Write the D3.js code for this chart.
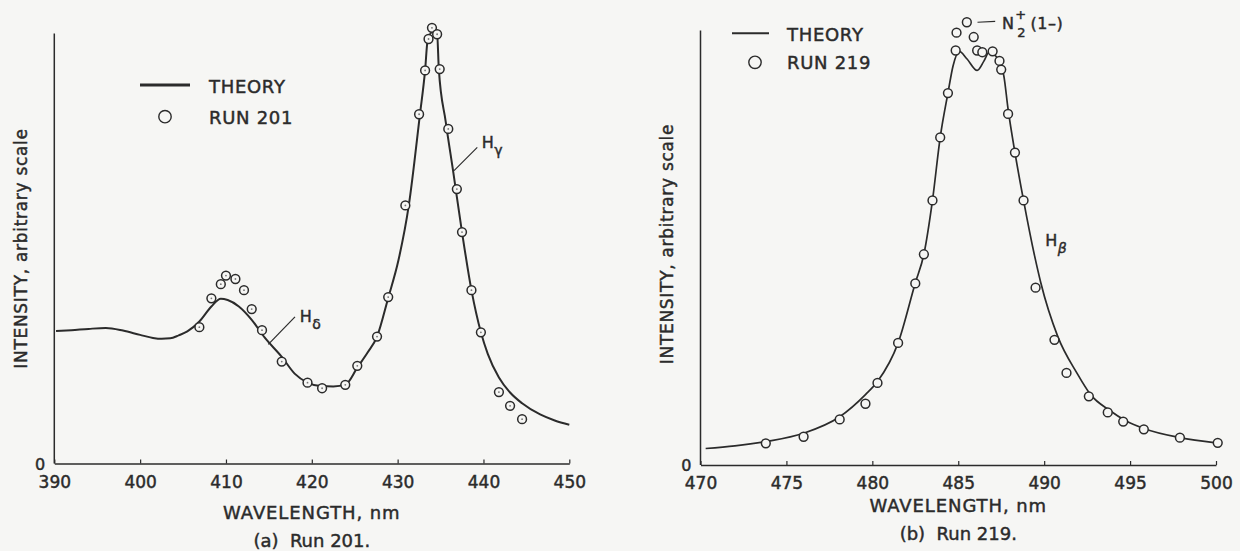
<!DOCTYPE html>
<html>
<head>
<meta charset="utf-8">
<script src="https://cdn.jsdelivr.net/npm/d3@7"></script>
<style>
  body { margin: 0; background: #f6f6f4; }
  svg { display: block; font-family: "DejaVu Sans", sans-serif; }
  text { fill: #2b2b2b; stroke: #2b2b2b; stroke-width: 0.45px; }
</style>
</head>
<body>
<svg id="chart" width="1240" height="551"></svg>
<script>
// (a) Run 201 - theory curve
const theoryA_wl = [390.2, 392, 394, 396, 398, 400, 401.5, 402.5, 403.5, 404.5, 405.5, 406.9, 408.3, 409.4, 410.2, 411.5, 413, 414.5, 416.5, 418, 419.5, 421, 422.5, 424, 425.3, 426.5, 427.6, 428.9, 430.1, 431.3, 432.6, 433.2, 433.5, 434.1, 434.6, 434.8, 435.6, 436.5, 437.5, 438.6, 439.7, 440.5, 441.8, 443.1, 444.5, 446.6, 448.3, 450];
const theoryA_int = [30.8, 31.0, 31.3, 31.5, 30.9, 29.9, 29.2, 29.0, 29.1, 29.8, 30.7, 33.0, 36.5, 38.3, 38.0, 36.5, 33.4, 29.3, 24.8, 20.9, 18.8, 18.0, 17.9, 18.5, 22.3, 25.8, 29.5, 38.5, 47.3, 60.0, 81.2, 91.4, 98.5, 100.4, 99.8, 91.7, 79.5, 67.5, 53.8, 40.3, 30.5, 25.5, 20.0, 16.5, 14.0, 11.4, 10.0, 9.0];
// (a) Run 201 - measured points
const runA_wl = [406.9, 408.3, 409.4, 410.0, 411.1, 412.1, 413.0, 414.2, 416.5, 419.5, 421.2, 423.9, 425.3, 427.6, 428.9, 430.9, 432.5, 433.2, 433.6, 434.0, 434.6, 434.9, 435.9, 436.9, 437.5, 438.6, 439.7, 441.8, 443.1, 444.5];
const runA_int = [31.7, 38.4, 41.7, 43.7, 42.9, 40.3, 35.9, 31.0, 23.7, 18.8, 17.5, 18.3, 22.7, 29.5, 38.7, 60.0, 81.2, 91.4, 98.7, 101.3, 99.8, 91.7, 77.8, 63.8, 53.8, 40.3, 30.5, 16.6, 13.4, 10.3];
const ticksA = [390, 400, 410, 420, 430, 440, 450];

// (b) Run 219 - theory curve
const theoryB_wl = [470.3, 472, 473.8, 476, 478.1, 479.6, 480.3, 481.5, 482.5, 483.0, 483.5, 483.95, 484.4, 484.7, 485.06, 485.5, 486.1, 486.5, 486.8, 487.25, 487.65, 487.9, 488.3, 488.8, 489.45, 489.8, 490.8, 491.9, 492.7, 493.8, 494.7, 495.8, 497.9, 500];
const theoryB_int = [3.8, 4.4, 5.4, 7.3, 11.1, 16.2, 19.2, 28.1, 41.9, 48.5, 60.9, 75.4, 85.6, 91.9, 95.2, 93.5, 90.8, 93.0, 95.0, 93.8, 89.6, 81.9, 71.9, 60.9, 48.0, 42.0, 29.5, 21.2, 16.2, 12.6, 10.3, 8.4, 6.3, 5.1];
// (b) Run 219 - measured points
const runB_wl = [473.8, 476.0, 478.1, 479.6, 480.3, 481.5, 482.5, 483.0, 483.5, 483.95, 484.4, 484.85, 484.9, 485.5, 485.9, 486.1, 486.4, 487.0, 487.4, 487.5, 487.9, 488.3, 488.8, 489.5, 490.6, 491.3, 492.6, 493.7, 494.6, 495.8, 497.9, 500.1];
const runB_int = [5.0, 6.5, 10.5, 14.1, 18.9, 28.1, 41.8, 48.5, 60.9, 75.4, 85.6, 95.4, 99.5, 101.9, 98.5, 95.4, 95.0, 95.2, 93.0, 91.0, 80.8, 71.9, 60.9, 40.8, 28.8, 21.2, 15.8, 12.1, 10.0, 8.2, 6.3, 5.1];
const ticksB = [470, 475, 480, 485, 490, 495, 500];

const ink = "#2b2b2b";
const svg = d3.select("#chart");

function drawPanel(p) {
  const x = d3.scaleLinear().domain(p.xDomain).range([p.left, p.right]);
  const y = d3.scaleLinear().domain([0, 100]).range([p.bottom, p.top]);
  const g = svg.append("g");

  // y axis: bare line with a single "0"
  g.append("line")
    .attr("x1", p.left).attr("x2", p.left)
    .attr("y1", y(0)).attr("y2", p.top)
    .attr("stroke", ink).attr("stroke-width", 1.5);
  g.append("text")
    .attr("x", p.left - 9).attr("y", y(0) + 6)
    .attr("text-anchor", "end")
    .style("font-size", "16px")
    .text("0");

  // x axis, ticks pointing inward
  const xAxis = g.append("g")
    .attr("transform", `translate(0,${y(0)})`)
    .call(d3.axisBottom(x).tickValues(p.ticks).tickSizeInner(-4).tickSizeOuter(0).tickFormat(d3.format("d")));
  xAxis.select(".domain").attr("stroke", ink).attr("stroke-width", 1.5);
  xAxis.selectAll(".tick line").attr("stroke", ink).attr("stroke-width", 1.2);
  xAxis.selectAll(".tick text")
    .attr("y", 24).attr("dy", 0)
    .style("font-size", "17px")
    .style("font-family", "DejaVu Sans, sans-serif");

  g.append("text")
    .attr("x", (p.left + p.right) / 2).attr("y", p.titleY)
    .attr("text-anchor", "middle")
    .style("font-size", "18px").style("letter-spacing", "0.9px")
    .text("WAVELENGTH, nm");

  g.append("text")
    .attr("transform", `translate(${p.yTitleX},${p.yTitleCY}) rotate(-90)`)
    .attr("text-anchor", "middle")
    .style("font-size", "17px").style("letter-spacing", "0.7px")
    .text("INTENSITY, arbitrary scale");

  g.append("text")
    .attr("x", (p.left + p.right) / 2).attr("y", p.captionY)
    .attr("text-anchor", "middle")
    .style("font-size", "18px")
    .style("white-space", "pre")
    .text(p.caption);

  // theory curve
  const line = d3.line()
    .x(d => x(d[0])).y(d => y(d[1]))
    .curve(d3.curveMonotoneX);
  g.append("path")
    .datum(d3.zip(p.theoryWl, p.theoryInt))
    .attr("d", line)
    .attr("fill", "none")
    .attr("stroke", ink)
    .attr("stroke-width", p.curveWidth);

  // measured points
  const pts = g.append("g").selectAll("g")
    .data(d3.zip(p.runWl, p.runInt))
    .join("g")
    .attr("transform", d => `translate(${x(d[0])},${y(d[1])})`);
  pts.append("circle")
    .attr("r", 4.4)
    .attr("fill", "#f6f6f4")
    .attr("stroke", ink)
    .attr("stroke-width", 1.5);
  if (p.centerDot) {
    pts.append("circle").attr("r", 0.9).attr("fill", "#777");
  }

  // legend
  const lg = g.append("g");
  lg.append("line")
    .attr("x1", p.legend.x1).attr("x2", p.legend.x2)
    .attr("y1", p.legend.lineY).attr("y2", p.legend.lineY)
    .attr("stroke", ink).attr("stroke-width", p.legend.lineW);
  lg.append("text")
    .attr("x", p.legend.textX).attr("y", p.legend.lineY + 8)
    .style("font-size", "18px").style("letter-spacing", "0.7px")
    .text("THEORY");
  lg.append("circle")
    .attr("cx", p.legend.cx).attr("cy", p.legend.cy)
    .attr("r", 6.2)
    .attr("fill", "none").attr("stroke", ink).attr("stroke-width", 1.4);
  lg.append("text")
    .attr("x", p.legend.textX).attr("y", p.legend.cy + 7)
    .style("font-size", "18px").style("letter-spacing", "0.7px")
    .text(p.runLabel);

  // line labels with leaders (positioned in data space)
  p.labels.forEach(l => {
    if (l.leader) {
      g.append("line")
        .attr("x1", x(l.leader[0])).attr("y1", y(l.leader[1]))
        .attr("x2", x(l.leader[2])).attr("y2", y(l.leader[3]))
        .attr("stroke", ink).attr("stroke-width", 1.2);
    }
    const t = g.append("text")
      .attr("x", x(l.at[0])).attr("y", y(l.at[1]))
      .style("font-size", "16px");
    t.append("tspan").text(l.main);
    if (l.sup) {
      t.append("tspan").attr("dy", -10).attr("dx", 1.5).style("font-size", "13px").text(l.sup);
      t.append("tspan").attr("dy", 18).attr("dx", -9).style("font-size", "13px").text(l.sub);
      t.append("tspan").attr("dy", -8).attr("dx", 5).style("font-size", "16px").style("letter-spacing", "0.5px").text(l.tail);
    } else if (l.sub) {
      t.append("tspan").attr("dy", 7).attr("dx", 0.5)
        .style("font-size", "14px").style("font-style", l.italic ? "italic" : "normal").text(l.sub);
    }
  });
}

drawPanel({
  xDomain: [390, 450], ticks: ticksA,
  left: 54.3, right: 569.3, top: 33.4, bottom: 463.5,
  titleY: 518.5, captionY: 546.5, caption: "(a)  Run 201.",
  yTitleX: 26.5, yTitleCY: 248.5,
  theoryWl: theoryA_wl, theoryInt: theoryA_int, curveWidth: 2,
  runWl: runA_wl, runInt: runA_int, centerDot: true,
  runLabel: "RUN 201",
  legend: { x1: 140, x2: 190, lineY: 85, lineW: 3.2, textX: 209, cx: 165, cy: 116.7 },
  labels: [
    { main: "H", sub: "δ", at: [418.6, 32.9], leader: [414.93, 27.7, 418.04, 34.1] },
    { main: "H", sub: "γ", at: [439.8, 73.3], leader: [436.57, 68.1, 439.28, 73.5] }
  ]
});

drawPanel({
  xDomain: [470, 500], ticks: ticksB,
  left: 700.5, right: 1216, top: 30.5, bottom: 465,
  titleY: 511.7, captionY: 540, caption: "(b)  Run 219.",
  yTitleX: 673.3, yTitleCY: 244,
  theoryWl: theoryB_wl, theoryInt: theoryB_int, curveWidth: 1.7,
  runWl: runB_wl, runInt: runB_int, centerDot: false,
  runLabel: "RUN 219",
  legend: { x1: 732, x2: 769, lineY: 33.3, lineW: 2, textX: 787, cx: 755, cy: 62.3 },
  labels: [
    { main: "N", sup: "+", sub: "2", tail: "(1–)", at: [487.54, 100.4], leader: [486.12, 101.9, 487.15, 102.1] },
    { main: "H", sub: "β", italic: true, at: [490.06, 50.4] }
  ]
});
</script>
</body>
</html>
